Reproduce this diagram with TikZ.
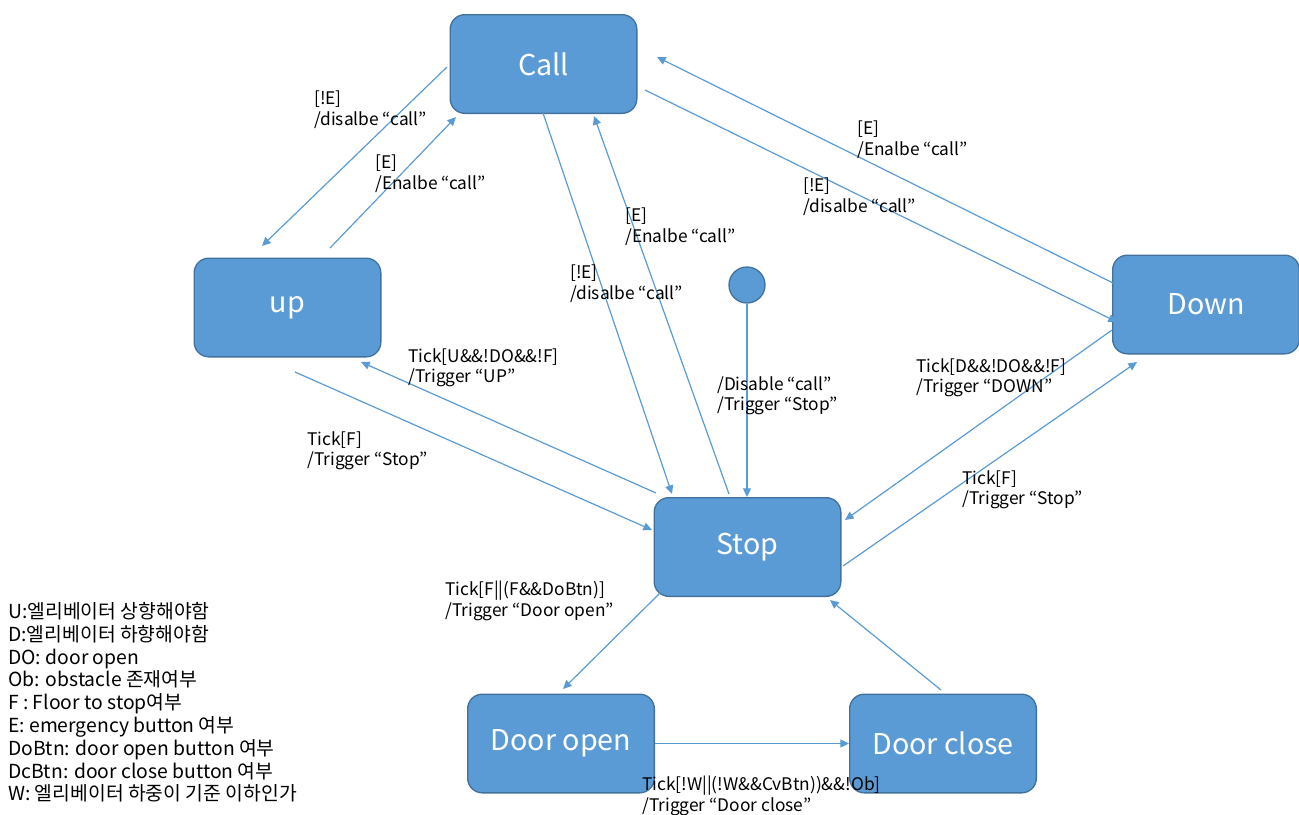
\documentclass[tikz,border=0pt]{standalone}
\usepackage{fontspec}
\setmainfont{Noto Sans CJK KR}
\usepackage{tikz}
\usetikzlibrary{arrows.meta,calc}

\definecolor{stateblue}{HTML}{5B9BD5}
\definecolor{stateedge}{HTML}{41719C}

\tikzset{
  state/.style={draw=stateedge, line width=1pt, fill=stateblue, rounded corners=11pt,
    minimum width=140pt, minimum height=74pt, text=white, font=\fontsize{21.5}{26}\selectfont},
  trans/.style={draw=stateblue, line width=0.9pt, -{Triangle[length=6.5pt,width=6pt]}},
  lbl/.style={anchor=north west, inner sep=0.75pt, align=left, font=\fontsize{13}{15.5}\selectfont},
}

\begin{document}
\begin{tikzpicture}[x=0.75pt,y=0.75pt,yscale=-1,xscale=1]
\useasboundingbox (0,0) rectangle (1299,814);

% states
\node[state] (call) at (543.5,64) {Call};
\node[state] (up) at (287.5,307.5) {up};
\node[state] (down) at (1206,304.5) {Down};
\node[state] (stop) at (747.5,547) {Stop};
\node[state] (dopen) at (561,743.5) {Door open};
\node[state] (dclose) at (943,743.5) {Door close};
\node[circle, draw=stateedge, line width=1pt, fill=stateblue, minimum size=27pt, inner sep=0pt] (init) at (747,285) {};

% transitions
\draw[trans] ($(call)+(-96.5,3)$) -- ($(up)+(-25.5,-61.5)$);
\draw[trans] ($(up)+(42.5,-59.5)$) -- ($(call)+(-87.5,53)$);
\draw[trans] ($(call)+(-0.5,49)$) -- ($(stop)+(-75.5,-53)$);
\draw[trans] ($(stop)+(-18.5,-53)$) -- ($(call)+(50.5,52)$);
\draw[trans] ($(call)+(101.5,26)$) -- ($(down)+(-89,17.5)$);
\draw[trans] ($(down)+(-93,-21.5)$) -- ($(call)+(113.5,-7)$);
\draw[trans] (init.south) -- (init |- stop.north);
\draw[trans] ($(up)+(7.5,64.5)$) -- ($(stop)+(-95.5,-17)$);
\draw[trans] ($(stop)+(-91.5,-54)$) -- ($(up)+(73.5,54.5)$);
\draw[trans] ($(down)+(-94,25.5)$) -- ($(stop)+(97.5,-27)$);
\draw[trans] ($(stop)+(95.5,19)$) -- ($(down)+(-69,57.5)$);
\draw[trans] ($(stop)+(-87.5,46)$) -- ($(dopen)+(2,-54.5)$);
\draw[trans] (dopen.east) -- (dclose.west);
\draw[trans] ($(dclose)+(-2,-53.5)$) -- ($(stop)+(82.5,53)$);

% labels
\node[lbl] (l1) at (313,90) {[!E]\\/disalbe “call”};
\node[lbl] (l2) at (374,154) {[E]\\/Enalbe “call”};
\node[lbl] (l3) at (569,264) {[!E]\\/disalbe “call”};
\node[lbl] (l4) at (624,207) {[E]\\/Enalbe “call”};
\node[lbl] (l5) at (802,177) {[!E]\\/disalbe “call”};
\node[lbl] (l6) at (856,120) {[E]\\/Enalbe “call”};
\node[lbl] (l7) at (716,375) {/Disable “call”\\/Trigger “Stop”};
\node[lbl] (l8) at (407,347) {Tick[U\&\&!DO\&\&!F]\\/Trigger “UP”};
\node[lbl] (l9) at (306,430) {Tick[F]\\/Trigger “Stop”};
\node[lbl] (l10) at (915,357) {Tick[D\&\&!DO\&\&!F]\\/Trigger “DOWN”};
\node[lbl] (l11) at (961,469) {Tick[F]\\/Trigger “Stop”};
\node[lbl] (l12) at (444,580) {Tick[F||(F\&\&DoBtn)]\\/Trigger “Door open”};
\node[lbl] (l13) at (641,775) {Tick[!W||(!W\&\&CvBtn))\&\&!Ob]\\/Trigger “Door close”};

% legend
\node[anchor=north west, inner sep=0.75pt, align=left, font=\fontsize{14.5}{17.1}\selectfont] (legend) at (7,601)
  {U:엘리베이터 상향해야함\\
   D:엘리베이터 하향해야함\\
   DO: door open\\
   Ob: obstacle 존재여부\\
   F : Floor to stop여부\\
   E: emergency button 여부\\
   DoBtn: door open button 여부\\
   DcBtn: door close button 여부\\
   W: 엘리베이터 하중이 기준 이하인가};

\end{tikzpicture}
\end{document}
